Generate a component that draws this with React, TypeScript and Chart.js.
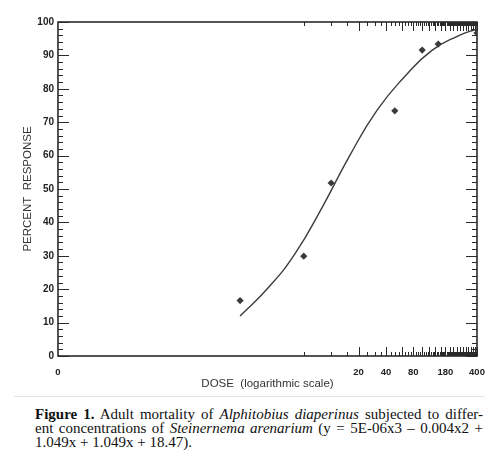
import React, { useEffect, useRef } from "react";
import { Chart, registerables } from "chart.js";

Chart.register(...registerables);

// Observed data (dose, percent response)
const doses = [1, 5, 10, 50, 100, 150, 400];
const responses = [16.6, 29.9, 51.8, 73.4, 91.6, 93.4, 96.7];

// Fitted curve
const curveDoses = [1, 2, 4, 8, 16, 32, 64, 128, 256, 400];
const curvePct = [12.0, 20.2, 30.6, 44.6, 60.0, 73.6, 83.6, 91.5, 96.0, 97.9];

// Axis ticks
const xTickValues = [0.01, 20, 40, 80, 180, 400];
const xTickLabels = ["0", "20", "40", "80", "180", "400"];
const xMinorStep = 5;
const xMajorStep = 20;
const yMinorStep = 2;
const yMajorStep = 10;

const SANS = '"Liberation Sans", Arial, sans-serif';
const AXIS_COLOR = "#2a2a2a";

const framePlugin = {
  id: "frameTicks",
  beforeDatasetsDraw(chart: any) {
    const { ctx, chartArea } = chart;
    const { left, right, top, bottom } = chartArea;
    const xs = chart.scales.x;
    const ys = chart.scales.y;
    ctx.save();
    ctx.strokeStyle = AXIS_COLOR;
    ctx.lineWidth = 1;
    ctx.beginPath();
    for (let v = xMinorStep; v <= 400; v += xMinorStep) {
      const px = Math.round(xs.getPixelForValue(v)) + 0.5;
      const len = v % xMajorStep === 0 ? 9 : 4;
      ctx.moveTo(px, bottom);
      ctx.lineTo(px, bottom - len);
      ctx.moveTo(px, top);
      ctx.lineTo(px, top + len);
    }
    for (let v = 0; v <= 100; v += yMinorStep) {
      const py = Math.round(ys.getPixelForValue(v)) + 0.5;
      const len = v % yMajorStep === 0 ? 11 : 5;
      ctx.moveTo(left, py);
      ctx.lineTo(left + len, py);
      ctx.moveTo(right, py);
      ctx.lineTo(right - len, py);
    }
    ctx.stroke();
    ctx.lineWidth = 1.6;
    ctx.strokeRect(left, top, right - left, bottom - top);
    ctx.restore();
  },
};

function ChartBox() {
  const ref = useRef<HTMLCanvasElement | null>(null);
  useEffect(() => {
    if (!ref.current) return;
    const chart = new Chart(ref.current, {
      type: "scatter",
      data: {
        datasets: [
          {
            label: "fit",
            data: curveDoses.map((d, i) => ({ x: d, y: curvePct[i] })),
            showLine: true,
            borderColor: "#3c3c3c",
            borderWidth: 1.4,
            pointRadius: 0,
            tension: 0.5,
            fill: false,
          },
          {
            label: "observed",
            data: doses.map((d, i) => ({ x: d, y: responses[i] })),
            showLine: false,
            pointStyle: "rectRot",
            pointRadius: 3.6,
            backgroundColor: "#3a3a3a",
            borderColor: "#3a3a3a",
            borderWidth: 0,
          },
        ],
      },
      options: {
        animation: false,
        responsive: false,
        maintainAspectRatio: false,
        events: [],
        layout: { padding: { left: 0, right: 23, top: 22, bottom: 0 } },
        plugins: { legend: { display: false }, tooltip: { enabled: false } },
        scales: {
          x: {
            type: "logarithmic",
            min: 0.01,
            max: 400,
            afterBuildTicks: (s: any) => {
              s.ticks = xTickValues.map((v) => ({ value: v }));
            },
            afterFit: (s: any) => {
              s.height = 36;
            },
            ticks: {
              autoSkip: false,
              maxRotation: 0,
              minRotation: 0,
              padding: 11,
              color: "#222",
              font: { family: SANS, size: 9.5, weight: "bold" },
              callback: (v: any) => {
                const i = xTickValues.indexOf(Number(v));
                return i >= 0 ? xTickLabels[i] : "";
              },
            },
            grid: { display: false, drawTicks: false },
            border: { display: false },
            title: {
              display: true,
              text: "DOSE  (logarithmic scale)",
              color: "#333",
              font: { family: SANS, size: 11.5 },
              padding: { top: 0, bottom: 1 },
            },
          },
          y: {
            type: "linear",
            min: 0,
            max: 100,
            afterFit: (s: any) => {
              s.width = 58;
            },
            ticks: {
              stepSize: yMajorStep,
              padding: 4,
              color: "#222",
              font: { family: SANS, size: 10, weight: "bold" },
            },
            grid: { display: false, drawTicks: false },
            border: { display: false },
            title: {
              display: true,
              text: "PERCENT  RESPONSE",
              color: "#333",
              font: { family: SANS, size: 11.5 },
              padding: { top: 21, bottom: 0 },
            },
          },
        },
      },
      plugins: [framePlugin],
    } as any);
    return () => chart.destroy();
  }, []);
  return (
    <canvas
      ref={ref}
      width={500}
      height={392}
      style={{ position: "absolute", left: 0, top: 0, width: 500, height: 392 }}
    />
  );
}

export default function App() {
  const serif = '"Liberation Serif", "Times New Roman", serif';
  const lineStyle: React.CSSProperties = {
    textAlign: "justify",
    textAlignLast: "justify" as any,
    height: 14,
  };
  return (
    <div
      style={{
        position: "absolute",
        left: 0,
        top: 0,
        width: 500,
        height: 466,
        background: "#fff",
        overflow: "hidden",
      }}
    >
      <ChartBox />
      <div
        style={{
          position: "absolute",
          left: 14,
          top: 396,
          width: 471,
          height: 1,
          background: "#e4e4e4",
        }}
      />
      <div
        style={{
          position: "absolute",
          left: 35,
          top: 407,
          width: 448,
          fontFamily: serif,
          fontSize: 15,
          lineHeight: "14px",
          color: "#111",
        }}
      >
        <div style={lineStyle}>
          <b>Figure 1.</b> Adult mortality of <i>Alphitobius diaperinus</i> subjected to differ-
        </div>
        <div style={lineStyle}>
          ent concentrations of <i>Steinernema arenarium</i> (y = 5E-06x3 – 0.004x2 +
        </div>
        <div style={{ height: 14 }}>1.049x + 1.049x + 18.47).</div>
      </div>
    </div>
  );
}
